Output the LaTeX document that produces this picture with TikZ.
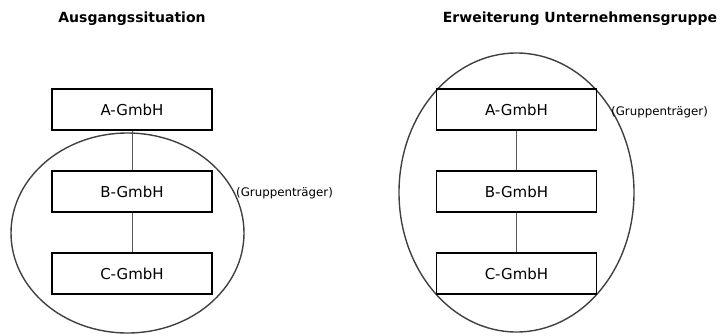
\documentclass[tikz,border=0pt]{standalone}
\usepackage{fontspec}
\setmainfont{DejaVu Sans}
\begin{document}
\begin{tikzpicture}[x=1bp,y=-1bp,
  box/.style={draw=black,line width=1.8bp,minimum width=160bp,minimum height=41bp,inner sep=0pt,font=\fontsize{15bp}{17bp}\selectfont},
  ttl/.style={font=\fontsize{14bp}{16bp}\selectfont\bfseries},
  note/.style={font=\fontsize{11.8bp}{14bp}\selectfont,anchor=west,inner sep=0pt},
  link/.style={draw=black!65,line width=1bp},
  grp/.style={draw=black!75,line width=1.4bp}]
\useasboundingbox (0,0) rectangle (724,335);
% left
\node[ttl] (t1) at (132,19) {Ausgangssituation};
\draw[grp] (127.5,233) ellipse [x radius=116.5bp, y radius=100bp];
\node[box] (a1) at (132,109.5) {A-GmbH};
\node[box] (b1) at (132,191.5) {B-GmbH};
\node[box] (c1) at (132,273.5) {C-GmbH};
\draw[link] (a1.south) -- (b1.north);
\draw[link] (b1.south) -- (c1.north);
\node[note] (g1) at (236,193) {(Gruppenträger)};
% right
\node[ttl] (t2) at (580,19) {Erweiterung Unternehmensgruppe};
\draw[grp] (516.5,192.5) ellipse [x radius=117.5bp, y radius=139.5bp];
\node[box] (a2) at (516.5,109.5) {A-GmbH};
\node[box] (b2) at (516.5,191.5) {B-GmbH};
\node[box] (c2) at (516.5,273.5) {C-GmbH};
\draw[link] (a2.south) -- (b2.north);
\draw[link] (b2.south) -- (c2.north);
\node[note] (g2) at (611,112) {(Gruppenträger)};
\end{tikzpicture}
\end{document}
